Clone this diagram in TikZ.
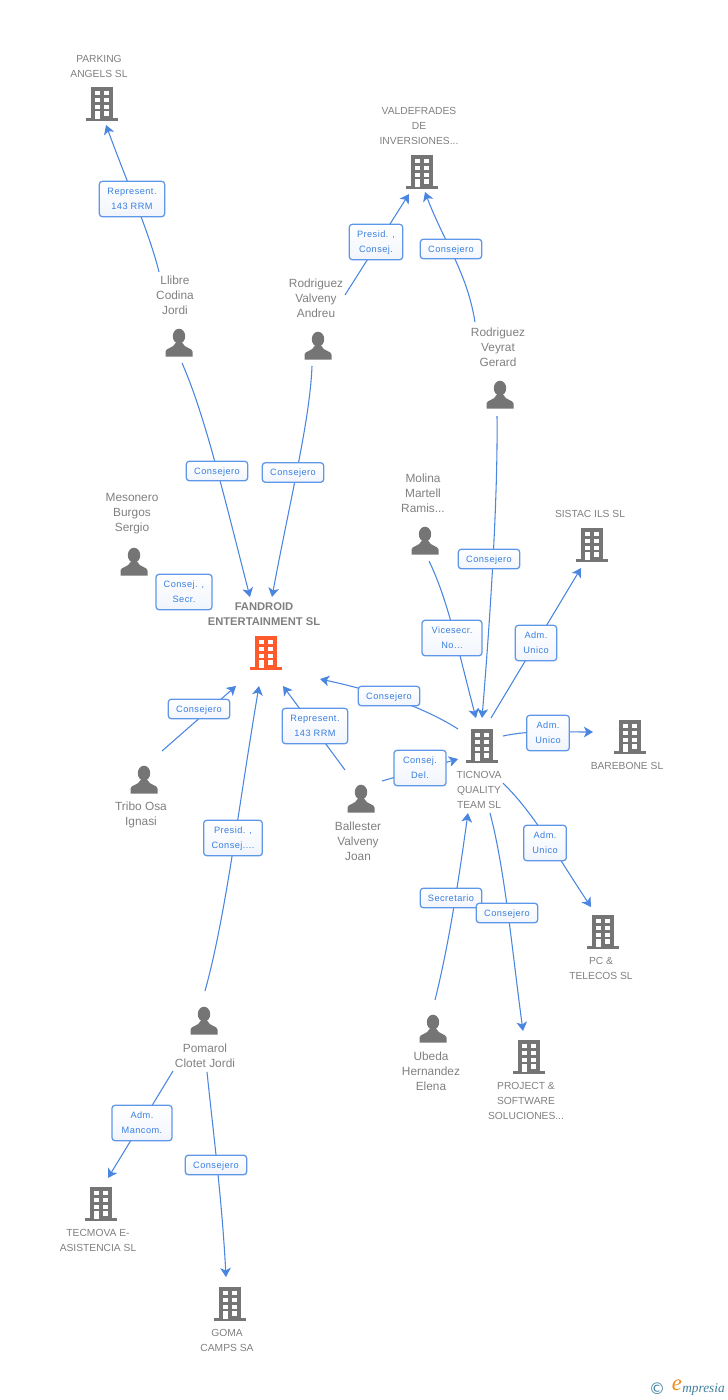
\documentclass[tikz,border=0pt]{standalone}
\usepackage{fontspec}
\setmainfont{Liberation Sans}
\newfontfamily\boxfont[LetterSpace=5]{Liberation Sans}
\newfontfamily\logofont{Liberation Serif}
\newfontfamily\copyfont{DejaVu Sans}
\usetikzlibrary{arrows.meta,backgrounds}
\definecolor{icongrey}{HTML}{757575}
\definecolor{txtgrey}{HTML}{808080}
\definecolor{linkblue}{HTML}{4A86E0}
\definecolor{tagedge}{HTML}{5F97E8}
\definecolor{boxblue}{HTML}{3A7FE0}
\definecolor{tagshade}{HTML}{F1F5FC}
\definecolor{hotorange}{HTML}{FF5A2B}
\definecolor{logoblue}{HTML}{3F7F9F}
\definecolor{logoorange}{HTML}{F08A1D}
\tikzset{
  x=0.75pt,y=-0.75pt,
  nametext/.style={font=\fontsize{7.7}{11.25}\selectfont,text=txtgrey,align=center,inner sep=0pt},
  persontext/.style={font=\fontsize{8.9}{11.25}\selectfont,text=txtgrey,align=center,inner sep=0pt},
  hotname/.style={font=\fontsize{8.4}{11.25}\selectfont\bfseries,text=txtgrey,align=center,inner sep=0pt},
  tag/.style={font=\fontsize{6.9}{11.25}\selectfont\boxfont,text=boxblue,align=center,draw=tagedge,
     line width=0.95pt,top color=white,bottom color=tagshade,rounded corners=2.2pt,inner sep=0pt,
     minimum height=#1,text depth=0pt},
  tag/.default=14.6pt,
  conn/.style={draw=linkblue,line width=0.8pt},
  arr/.style={conn,-{Stealth[length=6.8pt,width=8pt,inset=1.8pt]}},
  pics/bldg/.style={code={
    \fill[#1] (-11,-17) rectangle (11,13.7);
    \fill[#1] (-16,13.7) rectangle (16,17);
    \foreach \yy/\hh in {-12.7/-8.7,-6.3/-1.9,0.7/5}{
      \fill[white] (-7.3,\yy) rectangle (-2.3,\hh);
      \fill[white] (2.3,\yy) rectangle (7.3,\hh);
    }
    \fill[white] (-7.3,7) rectangle (-2.3,14.7);
    \fill[white] (2.3,7) rectangle (7.3,11.7);
  }},
  pics/bldg/.default=icongrey,
  pics/person/.style={code={
    \fill[icongrey] (0,-6.8) ellipse (6.2 and 7.5);
    \fill[icongrey] (-13.5,13.6) -- (-13.5,8.5) .. controls (-13.5,5) and (-5,5) .. (-3.5,0)
      -- (3.5,0) .. controls (5,5) and (13.5,5) .. (13.5,8.5) -- (13.5,13.6) -- cycle;
  }}
}
\begin{document}
\begin{tikzpicture}
\useasboundingbox (0,0) rectangle (728,1400);
% icons
\pic at (102,104) {bldg};
\pic at (422,172) {bldg};
\pic at (592,545) {bldg};
\pic at (266,653) {bldg=hotorange};
\pic at (482,746) {bldg};
\pic at (630,737) {bldg};
\pic at (603,932) {bldg};
\pic at (529,1057) {bldg};
\pic at (101,1204) {bldg};
\pic at (230,1304) {bldg};
\pic at (179,343) {person};
\pic at (318,346) {person};
\pic at (500,395) {person};
\pic at (425,541) {person};
\pic at (134,562) {person};
\pic at (144,780) {person};
\pic at (361,799) {person};
\pic at (204,1021) {person};
\pic at (433,1029) {person};
% names
\node[nametext] (nparking) at (99,66) {PARKING\\ANGELS SL};
\node[nametext] (nvalde) at (419,126) {VALDEFRADES\\DE\\INVERSIONES...};
\node[persontext] (nllibre) at (175,295) {Llibre\\Codina\\Jordi};
\node[persontext] (nandreu) at (316,298) {Rodriguez\\Valveny\\Andreu};
\node[persontext] (ngerard) at (498,347) {Rodriguez\\Veyrat\\Gerard};
\node[persontext] (nmolina) at (423,493) {Molina\\Martell\\Ramis...};
\node[nametext] (nsistac) at (590,514) {SISTAC ILS SL};
\node[persontext] (nmeso) at (132,514) {Mesonero\\Burgos\\Sergio};
\node[hotname] (nfand) at (264,614) {FANDROID\\ENTERTAINMENT SL};
\node[persontext] (ntribo) at (141,814.5) {Tribo Osa\\Ignasi};
\node[nametext] (nticnova) at (479,790) {TICNOVA\\QUALITY\\TEAM SL};
\node[nametext] (nbare) at (627,766) {BAREBONE SL};
\node[persontext] (nball) at (358,841) {Ballester\\Valveny\\Joan};
\node[nametext] (npc) at (601,968.5) {PC \&\\TELECOS SL};
\node[persontext] (npoma) at (205,1055.5) {Pomarol\\Clotet Jordi};
\node[persontext] (nubeda) at (431,1071) {Ubeda\\Hernandez\\Elena};
\node[nametext] (nproject) at (526,1101) {PROJECT \&\\SOFTWARE\\SOLUCIONES...};
\node[nametext] (ntecm) at (98,1240.5) {TECMOVA E-\\ASISTENCIA SL};
\node[nametext] (ngoma) at (227,1340.5) {GOMA\\CAMPS SA};
% free ends of connectors
\coordinate (s1) at (159,272);   \coordinate (t1) at (106,125);
\coordinate (s2) at (345,295);   \coordinate (t2) at (409,194);
\coordinate (s3) at (475,322);   \coordinate (t3) at (425,192);
\coordinate (s4) at (182,363);   \coordinate (t4) at (250,597);
\coordinate (s5) at (312,366);   \coordinate (t5) at (272,597);
\coordinate (s6) at (497,416);   \coordinate (t6) at (482,718);
\coordinate (s7) at (429,561);   \coordinate (t7) at (476,718);
\coordinate (s8) at (491,718);   \coordinate (t8) at (581,568);
\coordinate (s9) at (458,729);   \coordinate (t9) at (320,679);
\coordinate (s10) at (162,751);  \coordinate (t10) at (236,686);
\coordinate (s11) at (205,991);  \coordinate (t11) at (259,686);
\coordinate (s12) at (345,770);  \coordinate (t12) at (283,686);
\coordinate (s13) at (382,781);  \coordinate (t13) at (458,759);
\coordinate (s14) at (503,736);  \coordinate (t14) at (593,732);
\coordinate (s15) at (503,783);  \coordinate (t15) at (591,907);
\coordinate (s16) at (435,1000); \coordinate (t16) at (468,813);
\coordinate (s17) at (490,813);  \coordinate (t17) at (523,1031);
\coordinate (s18) at (173,1071); \coordinate (t18) at (108,1178);
\coordinate (s19) at (207,1072); \coordinate (t19) at (226,1277);
% connector labels
\node[tag=26.5pt,minimum width=49pt] (b1) at (132,199) {Represent.\\143 RRM};
\node[tag=26.5pt,minimum width=40pt] (b2) at (376,242) {Presid. ,\\Consej.};
\node[tag,minimum width=46pt] (b3) at (451,249) {Consejero};
\node[tag,minimum width=46pt] (b4) at (217,471) {Consejero};
\node[tag,minimum width=46pt] (b5) at (293,472.5) {Consejero};
\node[tag=26.5pt,minimum width=42pt] (b20) at (184,592) {Consej. ,\\Secr.};
\node[tag,minimum width=46pt] (b6) at (489,559) {Consejero};
\node[tag=26.5pt,minimum width=45pt] (b7) at (452,638) {Vicesecr.\\No...};
\node[tag=26.5pt,minimum width=31pt] (b8) at (536,643) {Adm.\\Unico};
\node[tag,minimum width=46pt] (b9) at (389,696) {Consejero};
\node[tag,minimum width=46pt] (b10) at (199,709) {Consejero};
\node[tag=26.5pt,minimum width=49pt] (b12) at (315,726) {Represent.\\143 RRM};
\node[tag=26.5pt,minimum width=32pt] (b14) at (548,733) {Adm.\\Unico};
\node[tag=26.5pt,minimum width=39pt] (b13) at (420,768) {Consej.\\Del.};
\node[tag=26.5pt,minimum width=44pt] (b11) at (233,838) {Presid. ,\\Consej....};
\node[tag=26.5pt,minimum width=32pt] (b15) at (545,843) {Adm.\\Unico};
\node[tag,minimum width=46pt] (b16) at (451,898) {Secretario};
\node[tag,minimum width=46pt] (b17) at (507,913) {Consejero};
\node[tag=26.5pt,minimum width=45pt] (b18) at (142,1123) {Adm.\\Mancom.};
\node[tag,minimum width=46pt] (b19) at (216,1165) {Consejero};
% connectors, running behind their labels
\begin{scope}[on background layer]
\draw[arr] (s1) .. controls (150,235) and (130,190) .. (t1);
\draw[arr] (s2) -- (t2);
\draw[arr] (s3) .. controls (467,272) and (443,240) .. (t3);
\draw[arr] (s4) .. controls (205,415) and (225,500) .. (t4);
\draw[arr] (s5) .. controls (310,420) and (290,500) .. (t5);
\draw[arr] (s6) .. controls (498,500) and (490,620) .. (t6);
\draw[arr] (s7) .. controls (448,600) and (458,650) .. (t7);
\draw[arr] (s8) -- (t8);
\draw[arr] (s9) .. controls (425,708) and (380,692) .. (t9);
\draw[arr] (s10) -- (t10);
\draw[arr] (s11) .. controls (226,915) and (238,810) .. (t11);
\draw[arr] (s12) -- (t12);
\draw[arr] (s13) -- (t13);
\draw[arr] (s14) .. controls (530,730) and (560,732) .. (t14);
\draw[arr] (s15) .. controls (535,815) and (550,845) .. (t15);
\draw[arr] (s16) .. controls (450,940) and (460,870) .. (t16);
\draw[arr] (s17) .. controls (505,870) and (512,950) .. (t17);
\draw[arr] (s18) -- (t18);
\draw[arr] (s19) .. controls (213,1130) and (222,1200) .. (t19);
\end{scope}
% logo
\node[inner sep=0pt,text=logoblue,font=\fontsize{12}{12}\selectfont\copyfont] (lc) at (657,1388.5) {©};
\node[inner sep=0pt,text=logoorange,font=\fontsize{17}{17}\selectfont\logofont\itshape] (le) at (677,1385) {e};
\node[inner sep=0pt,anchor=west,text=logoblue,font=\fontsize{10}{10}\selectfont\logofont\itshape] (lm) at (682,1389) {mpresia};
\end{tikzpicture}
\end{document}
